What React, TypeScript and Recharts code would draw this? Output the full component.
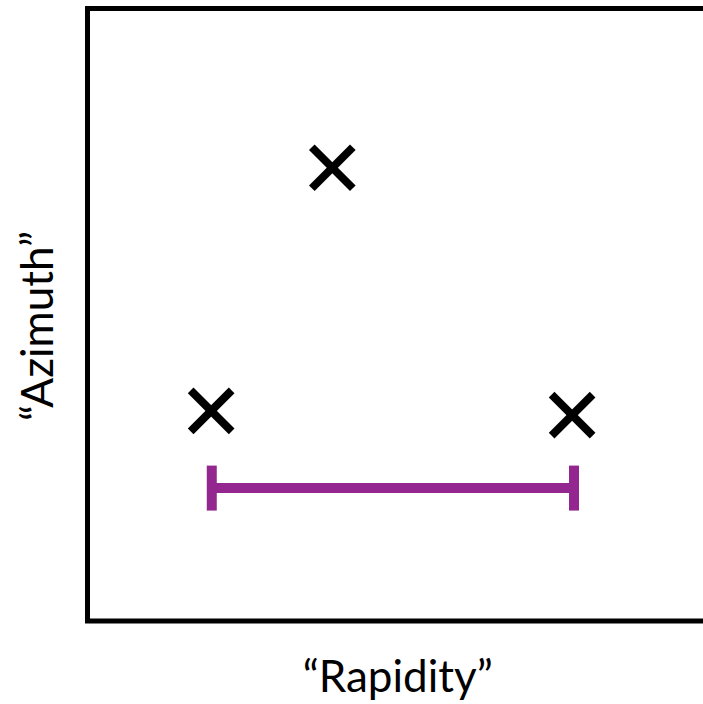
import React from "react";
import {
  ScatterChart,
  Scatter,
  XAxis,
  YAxis,
  ReferenceArea,
  ErrorBar,
} from "recharts";

// schematic positions, in plot units (0..10 on both axes)
const crossX = [1.98, 3.92, 7.76];
const crossY = [3.43, 7.4, 3.36];

// purple interval: from 1.99 to 7.79 at height 2.17
const spanStart = 1.99;
const spanEnd = 7.79;
const spanY = 2.17;

const xLabel = "\u201CRapidity\u201D";
const yLabel = "\u201CAzimuth\u201D";

const crosses = crossX.map((x, i) => ({ x, y: crossY[i] }));
const span = [
  { x: (spanStart + spanEnd) / 2, y: spanY, err: (spanEnd - spanStart) / 2 },
];

const FONT = "Lato, 'Open Sans', sans-serif";
const PURPLE = "#93278f";

const Cross = (props: any) => {
  const { cx, cy } = props;
  const d = 20.5;
  return (
    <g>
      <line x1={cx - d} y1={cy - d} x2={cx + d} y2={cy + d} stroke="#000" strokeWidth={8} />
      <line x1={cx - d} y1={cy + d} x2={cx + d} y2={cy - d} stroke="#000" strokeWidth={8} />
    </g>
  );
};

const XTitle = ({ viewBox }: any) => (
  <text
    x={viewBox.x + viewBox.width / 2 - 2}
    y={692}
    textAnchor="middle"
    fontFamily={FONT}
    fontSize={44}
    fill="#000"
  >
    {xLabel}
  </text>
);

const YTitle = () => {
  const x = 53;
  const y = 326;
  return (
    <text
      x={x}
      y={y}
      transform={`rotate(-90 ${x} ${y})`}
      textAnchor="middle"
      fontFamily={FONT}
      fontSize={44}
      fill="#000"
    >
      {yLabel}
    </text>
  );
};

export default function App() {
  return (
    <div style={{ position: "absolute", left: 0, top: 0, width: 703, height: 704, overflow: "hidden" }}>
      <ScatterChart
        width={720}
        height={704}
        margin={{ top: 8.5, right: 8, left: 0, bottom: 0 }}
      >
        <XAxis
          type="number"
          dataKey="x"
          domain={[0, 10]}
          height={83}
          axisLine={false}
          tick={false}
          tickLine={false}
          label={{ content: XTitle }}
        />
        <YAxis
          type="number"
          dataKey="y"
          domain={[0, 10]}
          width={87.5}
          axisLine={false}
          tick={false}
          tickLine={false}
          label={{ content: YTitle }}
        />
        <ReferenceArea
          x1={0}
          x2={10}
          y1={0}
          y2={10}
          fill="none"
          fillOpacity={0}
          stroke="#000"
          strokeWidth={5}
          ifOverflow="visible"
        />
        <Scatter
          data={span}
          isAnimationActive={false}
          shape={() => <g />}
        >
          <ErrorBar
            dataKey="err"
            direction="x"
            width={22.5}
            stroke={PURPLE}
            strokeWidth={10}
            isAnimationActive={false}
          />
        </Scatter>
        <Scatter data={crosses} isAnimationActive={false} shape={Cross} />
      </ScatterChart>
    </div>
  );
}
